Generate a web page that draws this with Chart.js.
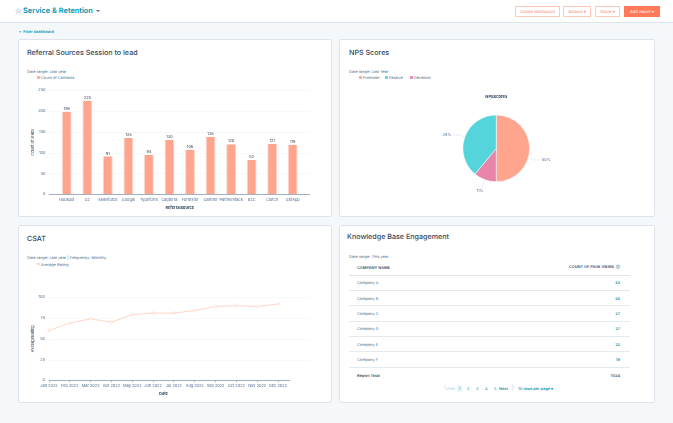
<!DOCTYPE html>
<html>
<head>
<meta charset="utf-8">
<script src="https://cdn.jsdelivr.net/npm/chart.js@4/dist/chart.umd.min.js"></script>
<style>
  html, body { margin: 0; padding: 0; }
  body { width: 673px; height: 423px; position: relative; overflow: hidden; background: #f5f8fa; font-family: Inter, sans-serif; color: #33475b; text-rendering: geometricPrecision; }
  .abs { position: absolute; white-space: nowrap; }
  #top { left: 0; top: 0; width: 673px; height: 22px; background: #fff; border-bottom: 1px solid #dfe3eb; }
  .btn { position: absolute; top: 6px; height: 9px; line-height: 9px; border: 1px solid #ffc9b8; color: #ff7a59; font-size: 4.1px; text-align: center; background: #fff; }
  .card { position: absolute; background: #fff; border: 1px solid #dfe3eb; border-radius: 2px; box-sizing: border-box; }
  .title { position: absolute; font-size: 7.15px; line-height: 10px; font-weight: 500; color: #33475b; white-space: nowrap; }
  .sub { position: absolute; font-size: 3.9px; line-height: 5px; color: #516f90; white-space: nowrap; }
  .leg { position: absolute; font-size: 3.9px; line-height: 5px; color: #516f90; white-space: nowrap; }
  .leg i { display: inline-block; width: 2.6px; height: 2.6px; border-radius: 50%; margin-right: 1.2px; vertical-align: 0.2px; }
  canvas { position: absolute; }
  #kb { position: absolute; left: 349px; top: 260px; width: 281px; border-collapse: collapse; font-size: 3.9px; color: #516f90; table-layout: fixed; }
  #kb th, #kb td { height: 15.4px; padding: 0 10px 0 8px; border-bottom: 0.8px solid #e5eaf0; text-align: left; box-sizing: border-box; }
  #kb th { color: #33475b; font-weight: 600; height: 15px; border-bottom: 1px solid #dfe3eb; }
  #kb .num { text-align: right; color: #0091ae; font-weight: 600; }
  #kb th.num { color: #33475b; }
  #kb tr:last-child td { border-bottom: none; color: #33475b; font-weight: 600; }
  .pg { position: absolute; top: 386px; font-size: 3.9px; line-height: 5px; color: #0091ae; white-space: nowrap; }
</style>
</head>
<body>
<div class="abs" id="top"></div>
<div class="abs" style="left:14px;top:6px;font-size:8px;line-height:10px;color:#c5d2e0;">☆</div>
<div class="abs" style="left:23px;top:6px;font-size:7.4px;line-height:10px;font-weight:600;color:#0091ae;">Service &amp; Retention</div>
<div class="abs" style="left:95.5px;top:10px;width:0;height:0;border:2px solid transparent;border-top:2.4px solid #516f90;"></div>
<div class="btn" style="left:515px;width:43px;">Create dashboard</div>
<div class="btn" style="left:563px;width:26px;">Actions ▾</div>
<div class="btn" style="left:595px;width:23px;">Share ▾</div>
<div class="btn" style="left:624px;width:34px;background:#ff7a59;border-color:#ff7a59;color:#fff;">Add report ▾</div>
<div class="abs" style="left:19px;top:29px;font-size:3.9px;line-height:5px;font-weight:600;color:#0091ae;">≡&nbsp; Filter dashboard</div>

<div class="card" style="left:18px;top:39px;width:314px;height:178px;"></div>
<div class="card" style="left:339px;top:39px;width:316px;height:178px;"></div>
<div class="card" style="left:18px;top:225px;width:314px;height:178px;"></div>
<div class="card" style="left:339px;top:225px;width:316px;height:178px;"></div>

<div class="title" style="left:27px;top:48px;">Referral Sources Session to lead</div>
<div class="sub" style="left:27px;top:68.5px;">Date range: Last year</div>
<div class="leg" style="left:37px;top:75px;"><i style="background:#ffa58d"></i>Count of Contacts</div>
<canvas id="barChart" style="left:20px;top:80px;"></canvas>

<div class="title" style="left:349px;top:48px;">NPS Scores</div>
<div class="sub" style="left:349px;top:68.5px;">Date range: Last Year</div>
<div class="leg" style="left:359px;top:75px;"><i style="background:#ffa58d"></i>Promoter</div>
<div class="leg" style="left:385px;top:75px;"><i style="background:#55d5db"></i>Passive</div>
<div class="leg" style="left:410px;top:75px;"><i style="background:#e884a9"></i>Detractor</div>
<canvas id="npsChart" style="left:340px;top:85px;"></canvas>

<div class="title" style="left:27px;top:234px;">CSAT</div>
<div class="sub" style="left:27px;top:254.5px;">Date range: Last year | Frequency: Monthly</div>
<div class="leg" style="left:37px;top:261.5px;"><i style="background:#fff;border:0.5px solid #ffc9b8;box-sizing:border-box"></i>Average Rating</div>
<canvas id="csatChart" style="left:20px;top:285px;"></canvas>

<div class="title" style="left:347px;top:232px;">Knowledge Base Engagement</div>
<div class="sub" style="left:349px;top:253.5px;">Date range: This year</div>
<table id="kb"></table>
<div class="pg" style="left:440px;color:#99acc2;font-size:7px;top:384.5px;">〈</div>
<div class="pg" style="left:447px;color:#b0c1d4;">Prev</div>
<div class="pg" style="left:457px;top:385px;background:#e5f5f8;padding:1px 1.8px;">1</div>
<div class="pg" style="left:467px;">2</div>
<div class="pg" style="left:476px;">3</div>
<div class="pg" style="left:485px;">4</div>
<div class="pg" style="left:494px;">5</div>
<div class="pg" style="left:499px;font-weight:600;">Next</div>
<div class="pg" style="left:511px;font-size:7px;top:384.5px;">〉</div>
<div class="pg" style="left:518px;font-weight:600;">10 rows per page ▾</div>

<script>
// ----------- DATA -----------
const sourceNames = ["Hubspot", "G2", "Salesforce", "Google", "Typeform", "Capterra", "Forrester", "Gartner", "Partnerstack", "B2C", "Clutch", "GetApp"];
const leadCounts = [198, 225, 91, 135, 94, 130, 106, 138, 120, 82, 121, 119];
const leadTicks = [0, 50, 100, 150, 200, 250];

const npsNames = ["Promoter", "Detractor", "Passive"];
const npsShares = [50, 11, 39];

const months = ["Jan 2022", "Feb 2022", "Mar 2022", "Apr 2022", "May 2022", "Jun 2022", "Jul 2022", "Aug 2022", "Sep 2022", "Oct 2022", "Nov 2022", "Dec 2022"];
const ratings = [60, 69, 74, 70, 79, 81, 81, 84, 89, 90, 89, 92];
const ratingTicks = [0, 25, 50, 75, 100];

const companies = ["Company A", "Company B", "Company C", "Company D", "Company E", "Company F"];
const pageViews = [33, 26, 27, 27, 22, 19];
const reportTotal = 1024;

const font = "Inter, sans-serif";
const tickColor = "#516f90";
const titleColor = "#33475b";
const orange = "#ffa58d";

// ----------- KNOWLEDGE BASE TABLE -----------
let rows = '<tr><th>COMPANY NAME</th><th class="num">COUNT OF PAGE VIEWS &nbsp;ⓘ</th></tr>';
companies.forEach((c, i) => {
  rows += "<tr><td>" + c + '</td><td class="num">' + pageViews[i] + "</td></tr>";
});
rows += '<tr><td>Report Total</td><td style="text-align:right">' + reportTotal + "</td></tr>";
document.getElementById("kb").innerHTML = rows;

function sizeCanvas(id, w, h) {
  const c = document.getElementById(id);
  c.width = w;
  c.height = h;
  c.style.width = w + "px";
  c.style.height = h + "px";
  const ctx = c.getContext("2d");
  ctx.textRendering = "geometricPrecision";
  return ctx;
}

// grid lines and axis line run past the plot area in the reference
function longGrid(leftExtra, rightGrid, rightAxis) {
  return {
    id: "longGrid",
    beforeDatasetsDraw(chart) {
      const ctx = chart.ctx, area = chart.chartArea, y = chart.scales.y;
      ctx.save();
      y.ticks.forEach(t => {
        const py = Math.round(y.getPixelForValue(t.value)) + 0.5;
        ctx.beginPath();
        if (t.value === 0) {
          ctx.strokeStyle = "#8a9bb0";
          ctx.lineWidth = 0.8;
          ctx.moveTo(area.left - leftExtra, py);
          ctx.lineTo(area.right + rightAxis, py);
        } else {
          ctx.strokeStyle = "#f1f3f6";
          ctx.lineWidth = 0.6;
          ctx.moveTo(area.left - leftExtra, py);
          ctx.lineTo(area.right + rightGrid, py);
        }
        ctx.stroke();
      });
      ctx.restore();
    }
  };
}

const barValueLabels = {
  id: "barValueLabels",
  afterDatasetsDraw(chart) {
    const ctx = chart.ctx;
    ctx.save();
    ctx.font = "3.9px " + font;
    ctx.fillStyle = titleColor;
    ctx.textAlign = "center";
    ctx.textBaseline = "bottom";
    chart.getDatasetMeta(0).data.forEach((bar, i) => {
      ctx.fillText(leadCounts[i], bar.x, bar.y - 1);
    });
    ctx.restore();
  }
};

// outer labels with leader lines; the first one sits lower than its slice middle
const pieLabels = {
  id: "pieLabels",
  afterDatasetsDraw(chart) {
    const ctx = chart.ctx;
    ctx.save();
    ctx.font = "3.9px " + font;
    ctx.fillStyle = tickColor;
    ctx.strokeStyle = "#dfe3eb";
    ctx.lineWidth = 0.6;
    ctx.textBaseline = "middle";
    chart.getDatasetMeta(0).data.forEach((arc, i) => {
      const nudge = i === 0 ? 0.3 : 0;
      const a = (arc.startAngle + arc.endAngle) / 2 + nudge;
      const r = arc.outerRadius;
      const x1 = arc.x + Math.cos(a) * r, y1 = arc.y + Math.sin(a) * r;
      ctx.beginPath();
      ctx.moveTo(x1, y1);
      if (Math.abs(Math.sin(a)) > 0.85) {
        // bottom label: straight leader, text centred under it
        const x2 = arc.x + Math.cos(a) * (r + 9), y2 = arc.y + Math.sin(a) * (r + 9);
        ctx.lineTo(x2, y2);
        ctx.stroke();
        ctx.textAlign = "center";
        ctx.fillText(npsShares[i] + "%", x2 - 2, y2 + 3);
      } else {
        const right = Math.cos(a) > 0;
        const x2 = arc.x + Math.cos(a) * (r + 6), y2 = arc.y + Math.sin(a) * (r + 6);
        const x3 = x2 + (right ? 7 : -7);
        ctx.lineTo(x2, y2);
        ctx.lineTo(x3, y2);
        ctx.stroke();
        ctx.textAlign = right ? "left" : "right";
        ctx.fillText(npsShares[i] + "%", x3 + (right ? 1 : -1), y2);
      }
    });
    ctx.restore();
  }
};

// keep plot area exactly where the layout padding puts it
function noAutoPadding(s) {
  s.paddingTop = 0;
  s.paddingBottom = 0;
  s.paddingLeft = 0;
  s.paddingRight = 0;
}

// ----------- REFERRAL BAR CHART -----------
new Chart(sizeCanvas("barChart", 310, 130), {
  type: "bar",
  data: {
    labels: sourceNames,
    datasets: [{
      label: "Count of Contacts",
      data: leadCounts,
      backgroundColor: orange,
      borderColor: "#ffd5c9",
      borderWidth: { left: 1, right: 1 },
      categoryPercentage: 1,
      barPercentage: 0.48
    }]
  },
  options: {
    responsive: false,
    animation: false,
    layout: { padding: { left: 10, right: 27, top: 10, bottom: 0 } },
    plugins: { legend: { display: false }, tooltip: { enabled: false } },
    scales: {
      y: {
        min: 0, max: 250,
        afterBuildTicks: s => { s.ticks = leadTicks.map(v => ({ value: v })); },
        afterFit: s => { s.width = 26.5; noAutoPadding(s); },
        grid: { display: false, drawTicks: false },
        border: { display: false },
        ticks: { padding: 11, color: tickColor, font: { size: 3.9, family: font } },
        title: { display: true, text: "Count of leads", color: titleColor, padding: 0, font: { size: 3.9, family: font } }
      },
      x: {
        afterFit: s => { s.height = 15.7; noAutoPadding(s); },
        grid: { display: false, drawTicks: false },
        border: { display: false },
        ticks: { padding: 3, maxRotation: 0, autoSkip: false, color: tickColor, font: { size: 3.9, family: font } },
        title: { display: true, text: "ReferralSource", color: titleColor, padding: { top: 1, bottom: 0 }, font: { size: 3.9, weight: "bold", family: font } }
      }
    }
  },
  plugins: [longGrid(7.5, 7, 7), barValueLabels]
});

// ----------- NPS PIE CHART -----------
new Chart(sizeCanvas("npsChart", 313, 130), {
  type: "pie",
  data: {
    labels: npsNames,
    datasets: [{
      data: npsShares,
      backgroundColor: [orange, "#e884a9", "#55d5db"],
      borderColor: "#fff",
      borderWidth: 0.5
    }]
  },
  options: {
    responsive: false,
    animation: false,
    layout: { padding: { left: 122.5, right: 123, top: 0, bottom: 33 } },
    plugins: {
      legend: { display: false },
      tooltip: { enabled: false },
      title: { display: true, text: "NPSScores", color: titleColor, padding: { top: 9.5, bottom: 15.5 }, font: { size: 4, weight: "bold", family: font } }
    }
  },
  plugins: [pieLabels]
});

// ----------- CSAT LINE CHART -----------
new Chart(sizeCanvas("csatChart", 310, 111), {
  type: "line",
  data: {
    labels: months,
    datasets: [{
      label: "Average Rating",
      data: ratings,
      borderColor: "#ffd5c9",
      borderWidth: 1,
      backgroundColor: "#fff",
      pointBorderColor: "#ffc9b8",
      pointBorderWidth: 0.6,
      pointRadius: 1.3,
      tension: 0
    }]
  },
  options: {
    responsive: false,
    animation: false,
    layout: { padding: { left: 10, right: 52, top: 12.3, bottom: 0 } },
    plugins: { legend: { display: false }, tooltip: { enabled: false } },
    scales: {
      y: {
        min: 0, max: 100,
        afterBuildTicks: s => { s.ticks = ratingTicks.map(v => ({ value: v })); },
        afterFit: s => { s.width = 19; noAutoPadding(s); },
        grid: { display: false, drawTicks: false },
        border: { display: false },
        ticks: { padding: 4, color: tickColor, font: { size: 3.9, family: font } },
        title: { display: true, text: "AverageRating", color: titleColor, padding: 0, font: { size: 3.9, family: font } }
      },
      x: {
        offset: false,
        afterFit: s => { s.height = 15.7; noAutoPadding(s); },
        grid: { drawOnChartArea: false, tickLength: 2, color: "#8a9bb0", lineWidth: 0.6 },
        border: { display: false },
        ticks: { padding: 1, maxRotation: 0, autoSkip: false, color: tickColor, font: { size: 3.9, family: font } },
        title: { display: true, text: "Date", color: titleColor, padding: { top: 1, bottom: 0 }, font: { size: 3.9, weight: "bold", family: font } }
      }
    }
  },
  plugins: [longGrid(0, 32, 12)]
});
</script>
</body>
</html>
